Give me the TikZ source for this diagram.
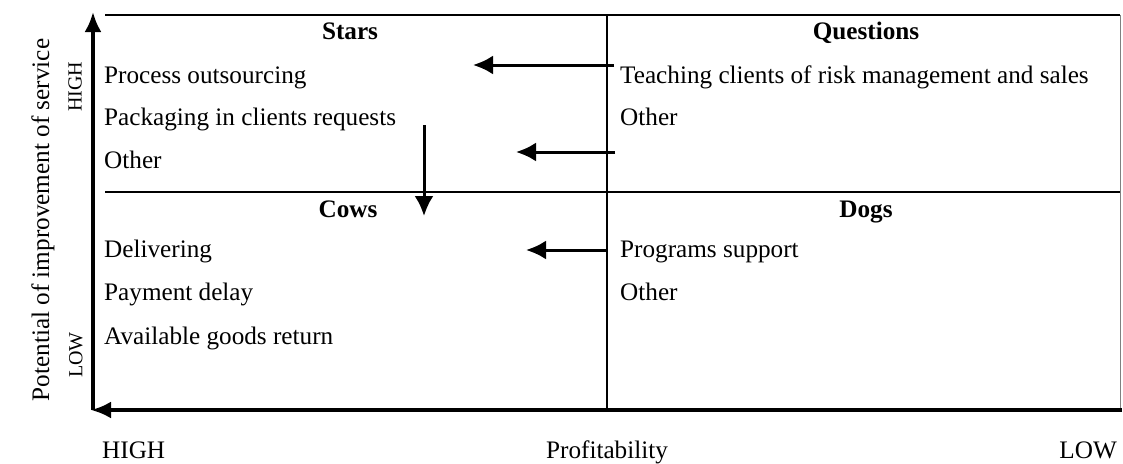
\documentclass[tikz,border=0pt]{standalone}
\usepackage{fontspec}
\setmainfont{Liberation Serif}
\usetikzlibrary{arrows.meta}
\begin{document}
\begin{tikzpicture}[x=1pt,y=-1pt,
  lbl/.style={inner sep=0pt, anchor=base west, font=\fontsize{25.2}{30}\selectfont},
  ttl/.style={inner sep=0pt, anchor=base, font=\fontsize{25.2}{30}\selectfont\bfseries},
  small/.style={inner sep=0pt, font=\fontsize{20}{24}\selectfont},
  axisline/.style={line width=3.5pt, -{Latex[length=20pt,width=17pt]}},
  gridline/.style={line width=1.6pt},
  moveline/.style={line width=3pt, -{Latex[length=20pt,width=19pt]}},
]
\useasboundingbox (0,0) rectangle (1123,463);

% grid
\coordinate (tl) at (105,15);
\coordinate (tr) at (1120,15);
\coordinate (ml) at (105,192);
\coordinate (mr) at (1120,192);
\coordinate (vt) at (607,15);
\coordinate (vb) at (607,410);
\coordinate (rb) at (1120,410);
\draw[gridline] (tl) -- (tr);
\draw[gridline] (ml) -- (mr);
\draw[line width=1.3pt] (vt) -- (vb);
\draw[line width=1pt, gray] (tr) -- (rb);

% axes
\coordinate (origin) at (93,410);
\coordinate (ytip) at (93,12);
\coordinate (xstart) at (1122,410);
\coordinate (xtip) at (91,410);
\draw[axisline] (origin) -- (ytip);
\draw[axisline] (xstart) -- (xtip);

% titles
\node[ttl] (stars) at (350,39) {Stars};
\node[ttl] (questions) at (866,39) {Questions};
\node[ttl] (cows) at (348,217) {Cows};
\node[ttl] (dogs) at (866,217) {Dogs};

% stars items
\node[lbl] (s1) at (104,83) {Process outsourcing};
\node[lbl] (s2) at (104,125.5) {Packaging in clients requests};
\node[lbl] (s3) at (104,168) {Other};
% questions items
\node[lbl] (q1) at (620,83) {Teaching clients of risk management and sales};
\node[lbl] (q2) at (620,125.5) {Other};
% cows items
\node[lbl] (c1) at (104,257) {Delivering};
\node[lbl] (c2) at (104,300) {Payment delay};
\node[lbl] (c3) at (104,344) {Available goods return};
% dogs items
\node[lbl] (d1) at (620,257) {Programs support};
\node[lbl] (d2) at (620,300) {Other};

% movement arrows
\coordinate (a1s) at (614,65);
\coordinate (a1e) at (473,65);
\coordinate (a2s) at (615,152);
\coordinate (a2e) at (516,152);
\coordinate (a3s) at (424,125);
\coordinate (a3e) at (424,216);
\coordinate (a4s) at (607,250);
\coordinate (a4e) at (526,250);
\draw[moveline] (a1s) -- (a1e);
\draw[moveline] (a2s) -- (a2e);
\draw[moveline] (a3s) -- (a3e);
\draw[moveline] (a4s) -- (a4e);

% axis labels
\node[rotate=90, inner sep=0pt, font=\fontsize{25.2}{30}\selectfont] (ylabel) at (43,220) {Potential of improvement of service};
\node[small, rotate=90] (yhigh) at (75,87) {HIGH};
\node[small, rotate=90] (ylow) at (76,355) {LOW};
\node[lbl] (xhigh) at (102,458) {HIGH};
\node[ttl, font=\fontsize{25.2}{30}\selectfont] (xlabel) at (607,458) {Profitability};
\node[lbl, anchor=base east] (xlow) at (1117,458) {LOW};
\end{tikzpicture}
\end{document}
